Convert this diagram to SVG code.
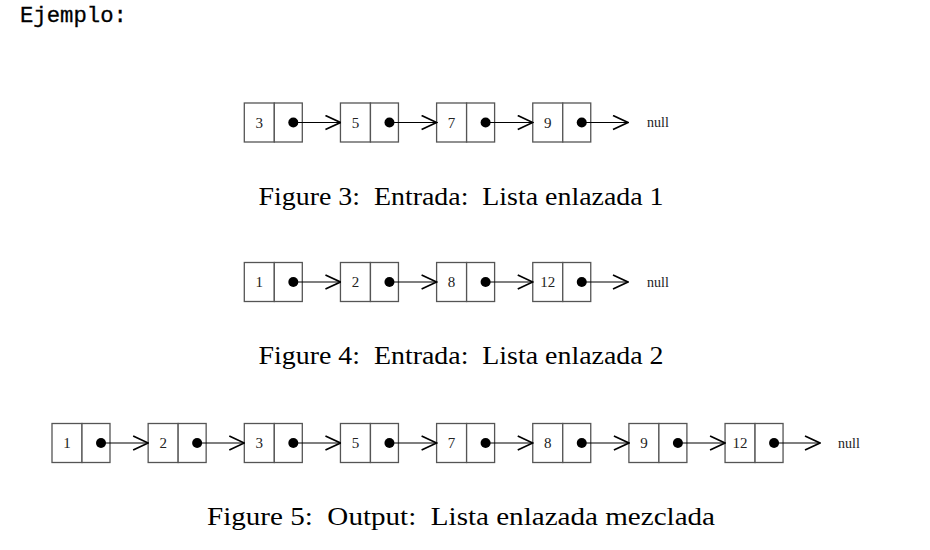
<svg xmlns="http://www.w3.org/2000/svg" width="930" height="550" viewBox="0 0 930 550">
<defs>
<style>
.cell{fill:#fff;stroke:#555;stroke-width:1.3}
.dot{fill:#000}
.num{font-family:"Liberation Serif",serif;font-size:15px;fill:#222;text-anchor:middle}
.null{font-family:"Liberation Serif",serif;font-size:14px;fill:#222}
.cap{font-family:"Liberation Serif",serif;font-size:25px;fill:#000;text-anchor:middle}
.mono{font-family:"Liberation Mono",monospace;font-size:22px;fill:#000}
.link{stroke:#000;stroke-width:1.2;fill:none;marker-end:url(#arr)}
</style>
<marker id="arr" viewBox="-16 -8 17 16" refX="0" refY="0" markerWidth="17" markerHeight="16" markerUnits="userSpaceOnUse" orient="auto">
<path d="M -15 -7 L 0 0 L -15 7" fill="none" stroke="#000" stroke-width="1.7"/>
</marker>
</defs>
<rect width="930" height="550" fill="#fff"/>
<text class="mono" x="20" y="22" textLength="107" lengthAdjust="spacingAndGlyphs" stroke="#000" stroke-width="0.3">Ejemplo:</text>

<!-- List 1 -->
<g id="l1n1"><rect class="cell" x="244.3" y="103" width="30" height="39"/><rect class="cell" x="274.3" y="103" width="28" height="39"/><circle class="dot" cx="293.3" cy="122.5" r="5"/><text class="num" x="259.3" y="127.5">3</text></g>
<g id="l1n2"><rect class="cell" x="340.45" y="103" width="30" height="39"/><rect class="cell" x="370.45" y="103" width="28" height="39"/><circle class="dot" cx="389.45" cy="122.5" r="5"/><text class="num" x="355.45" y="127.5">5</text></g>
<g id="l1n3"><rect class="cell" x="436.6" y="103" width="30" height="39"/><rect class="cell" x="466.6" y="103" width="28" height="39"/><circle class="dot" cx="485.6" cy="122.5" r="5"/><text class="num" x="451.6" y="127.5">7</text></g>
<g id="l1n4"><rect class="cell" x="532.75" y="103" width="30" height="39"/><rect class="cell" x="562.75" y="103" width="28" height="39"/><circle class="dot" cx="581.75" cy="122.5" r="5"/><text class="num" x="547.75" y="127.5">9</text></g>
<g id="l1null"><text class="null" x="647" y="127">null</text></g>
<text class="cap" x="461" y="205" textLength="405" lengthAdjust="spacingAndGlyphs" xml:space="preserve">Figure 3:  Entrada:  Lista enlazada 1</text>

<!-- List 2 -->
<g id="l2n1"><rect class="cell" x="244.3" y="262.5" width="30" height="39"/><rect class="cell" x="274.3" y="262.5" width="28" height="39"/><circle class="dot" cx="293.3" cy="282" r="5"/><text class="num" x="259.3" y="287">1</text></g>
<g id="l2n2"><rect class="cell" x="340.45" y="262.5" width="30" height="39"/><rect class="cell" x="370.45" y="262.5" width="28" height="39"/><circle class="dot" cx="389.45" cy="282" r="5"/><text class="num" x="355.45" y="287">2</text></g>
<g id="l2n3"><rect class="cell" x="436.6" y="262.5" width="30" height="39"/><rect class="cell" x="466.6" y="262.5" width="28" height="39"/><circle class="dot" cx="485.6" cy="282" r="5"/><text class="num" x="451.6" y="287">8</text></g>
<g id="l2n4"><rect class="cell" x="532.75" y="262.5" width="30" height="39"/><rect class="cell" x="562.75" y="262.5" width="28" height="39"/><circle class="dot" cx="581.75" cy="282" r="5"/><text class="num" x="547.75" y="287">12</text></g>
<g id="l2null"><text class="null" x="647" y="286.5">null</text></g>
<text class="cap" x="461" y="364" textLength="405" lengthAdjust="spacingAndGlyphs" xml:space="preserve">Figure 4:  Entrada:  Lista enlazada 2</text>

<!-- List 3 -->
<g id="l3n1"><rect class="cell" x="52" y="423.5" width="30" height="39"/><rect class="cell" x="82" y="423.5" width="28" height="39"/><circle class="dot" cx="101" cy="443" r="5"/><text class="num" x="67" y="448">1</text></g>
<g id="l3n2"><rect class="cell" x="148.15" y="423.5" width="30" height="39"/><rect class="cell" x="178.15" y="423.5" width="28" height="39"/><circle class="dot" cx="197.15" cy="443" r="5"/><text class="num" x="163.15" y="448">2</text></g>
<g id="l3n3"><rect class="cell" x="244.3" y="423.5" width="30" height="39"/><rect class="cell" x="274.3" y="423.5" width="28" height="39"/><circle class="dot" cx="293.3" cy="443" r="5"/><text class="num" x="259.3" y="448">3</text></g>
<g id="l3n4"><rect class="cell" x="340.45" y="423.5" width="30" height="39"/><rect class="cell" x="370.45" y="423.5" width="28" height="39"/><circle class="dot" cx="389.45" cy="443" r="5"/><text class="num" x="355.45" y="448">5</text></g>
<g id="l3n5"><rect class="cell" x="436.6" y="423.5" width="30" height="39"/><rect class="cell" x="466.6" y="423.5" width="28" height="39"/><circle class="dot" cx="485.6" cy="443" r="5"/><text class="num" x="451.6" y="448">7</text></g>
<g id="l3n6"><rect class="cell" x="532.75" y="423.5" width="30" height="39"/><rect class="cell" x="562.75" y="423.5" width="28" height="39"/><circle class="dot" cx="581.75" cy="443" r="5"/><text class="num" x="547.75" y="448">8</text></g>
<g id="l3n7"><rect class="cell" x="628.9" y="423.5" width="30" height="39"/><rect class="cell" x="658.9" y="423.5" width="28" height="39"/><circle class="dot" cx="677.9" cy="443" r="5"/><text class="num" x="643.9" y="448">9</text></g>
<g id="l3n8"><rect class="cell" x="725.05" y="423.5" width="30" height="39"/><rect class="cell" x="755.05" y="423.5" width="28" height="39"/><circle class="dot" cx="774.05" cy="443" r="5"/><text class="num" x="740.05" y="448">12</text></g>
<g id="l3null"><text class="null" x="838" y="447.5">null</text></g>
<text class="cap" x="461" y="525" textLength="508" lengthAdjust="spacingAndGlyphs" xml:space="preserve">Figure 5:  Output:  Lista enlazada mezclada</text>

<g id="connectors">
<path class="link" d="M293.3 122.5 H340.45"/>
<path class="link" d="M389.45 122.5 H436.6"/>
<path class="link" d="M485.6 122.5 H532.75"/>
<path class="link" d="M581.75 122.5 H628"/>
<path class="link" d="M293.3 282 H340.45"/>
<path class="link" d="M389.45 282 H436.6"/>
<path class="link" d="M485.6 282 H532.75"/>
<path class="link" d="M581.75 282 H628"/>
<path class="link" d="M101 443 H148.15"/>
<path class="link" d="M197.15 443 H244.3"/>
<path class="link" d="M293.3 443 H340.45"/>
<path class="link" d="M389.45 443 H436.6"/>
<path class="link" d="M485.6 443 H532.75"/>
<path class="link" d="M581.75 443 H628.9"/>
<path class="link" d="M677.9 443 H725.05"/>
<path class="link" d="M774.05 443 H820"/>
</g>
</svg>
